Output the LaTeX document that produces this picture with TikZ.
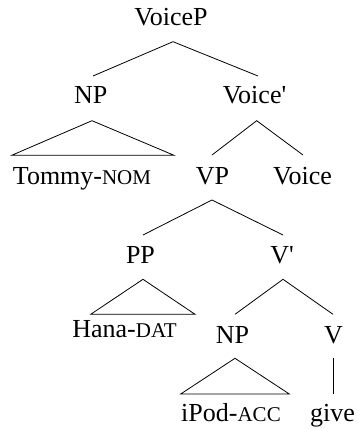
\documentclass[tikz,border=0pt]{standalone}
\usepackage{fontspec}
\newfontfamily\treefont{Liberation Serif}
\newcommand\smc[1]{{\fontsize{21}{21}\selectfont #1}}
\begin{document}
\begin{tikzpicture}[x=1pt,y=1pt,
  lab/.style={font=\treefont\fontsize{26}{26}\selectfont, inner sep=0pt, anchor=base},
  edge/.style={line width=0.8pt}]
\useasboundingbox (0,0) rectangle (357,429);
% labels
\node[lab] (voicep) at (171,403) {VoiceP};
\node[lab] (np1) at (90.7,325) {NP};
\node[lab] (voicebar) at (254.5,325) {Voice'};
\node[lab] (tommy) at (82,244) {Tommy-\smc{NOM}};
\node[lab] (vp) at (212.5,244) {VP};
\node[lab] (voice) at (302.5,244) {Voice};
\node[lab] (pp) at (140.5,165) {PP};
\node[lab] (vbar) at (282,165) {V'};
\node[lab] (hana) at (124.5,91.3) {Hana-\smc{DAT}};
\node[lab] (np2) at (232.5,85.7) {NP};
\node[lab] (v) at (333.5,85.7) {V};
\node[lab] (ipod) at (231,7.3) {iPod-\smc{ACC}};
\node[lab] (give) at (332.5,7.3) {give};
% branch points
\coordinate (a1) at (173,387.3); \coordinate (a1l) at (93,353); \coordinate (a1r) at (258,353);
\coordinate (a2) at (92,308.3); \coordinate (a2l) at (11.7,273.7); \coordinate (a2r) at (174,273.7);
\coordinate (a3) at (256.7,308.3); \coordinate (a3l) at (212,274); \coordinate (a3r) at (303,274);
\coordinate (a4) at (212,229); \coordinate (a4l) at (143,194); \coordinate (a4r) at (283,194);
\coordinate (a5) at (143,149.7); \coordinate (a5l) at (90.7,114.7); \coordinate (a5r) at (195,114.7);
\coordinate (a6) at (283,149.7); \coordinate (a6l) at (235,114.7); \coordinate (a6r) at (333,114.7);
\coordinate (a7) at (235,70.7); \coordinate (a7l) at (180.7,35); \coordinate (a7r) at (289.3,35);
\coordinate (a8) at (333,70.7); \coordinate (a8b) at (333,35);
% edges
\draw[edge] (a1l) -- (a1) -- (a1r);
\draw[edge] (a2l) -- (a2) -- (a2r) -- cycle;
\draw[edge] (a3l) -- (a3) -- (a3r);
\draw[edge] (a4l) -- (a4) -- (a4r);
\draw[edge] (a5l) -- (a5) -- (a5r) -- cycle;
\draw[edge] (a6l) -- (a6) -- (a6r);
\draw[edge] (a7l) -- (a7) -- (a7r) -- cycle;
\draw[edge] (a8) -- (a8b);
\end{tikzpicture}
\end{document}
